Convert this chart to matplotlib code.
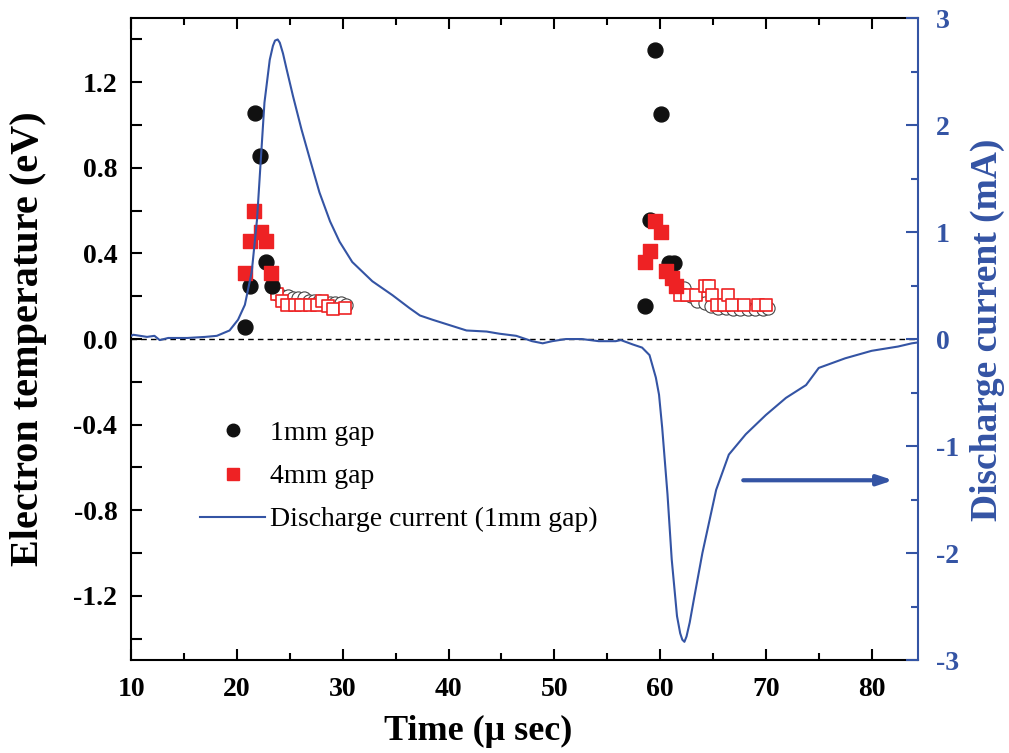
import numpy as np
import matplotlib
matplotlib.use("Agg")
import matplotlib.pyplot as plt
from matplotlib.ticker import MultipleLocator
from matplotlib.lines import Line2D

# electron temperature, 1mm gap (filled = main points, open = tail)
t1_fill = [20.75, 21.2, 21.7, 22.2, 22.7, 23.3, 58.6, 59.05, 59.5, 60.1, 60.85, 61.3]
te1_fill = [0.056, 0.25, 1.055, 0.854, 0.36, 0.25, 0.154, 0.555, 1.35, 1.05, 0.355, 0.355]
t1_open = [23.8, 24.3, 24.8, 25.3, 25.8, 26.3, 26.8, 27.3, 27.8, 28.3, 28.8, 29.3, 29.8, 30.3,
           62.3, 62.9, 63.5, 64.2, 64.8, 65.5, 66.2, 66.9, 67.6, 68.3, 69.0, 69.7, 70.2]
te1_open = [0.21, 0.20, 0.20, 0.19, 0.19, 0.19, 0.18, 0.18, 0.18, 0.17, 0.17, 0.17, 0.17, 0.16,
            0.24, 0.20, 0.18, 0.17, 0.155, 0.145, 0.145, 0.14, 0.14, 0.14, 0.14, 0.14, 0.145]

# electron temperature, 4mm gap
t4_fill = [20.75, 21.2, 21.6, 22.3, 22.7, 23.2, 58.6, 59.05, 59.5, 60.1, 60.6, 61.1, 61.5]
te4_fill = [0.31, 0.46, 0.60, 0.50, 0.46, 0.31, 0.36, 0.41, 0.55, 0.50, 0.32, 0.285, 0.25]
t4_open = [23.8, 24.3, 24.7, 25.5, 26.1, 26.9, 27.6, 28.0, 28.6, 29.1, 30.2,
           61.9, 62.5, 63.4, 64.2, 64.6, 64.9, 65.4, 66.0, 66.4, 66.8, 67.9, 69.3, 70.0]
te4_open = [0.21, 0.18, 0.16, 0.16, 0.16, 0.16, 0.16, 0.18, 0.155, 0.14, 0.145,
            0.205, 0.205, 0.205, 0.25, 0.25, 0.205, 0.16, 0.16, 0.205, 0.16, 0.16, 0.16, 0.16]

# discharge current (mA), 1mm gap
t_cur = [10.0, 10.2, 11.5, 12.2, 12.7, 13.5, 15.3, 17.0, 18.1, 19.3, 20.1, 20.75, 21.4, 21.9, 22.2,
         22.6, 23.1, 23.4, 23.6, 23.85, 24.05, 24.35, 24.7, 25.3, 26.1, 26.9, 27.8, 28.8, 29.7, 30.9,
         32.8, 34.7, 36.3, 37.3, 38.5, 40.1, 41.7, 43.6, 44.8, 46.4, 47.9, 48.9, 49.8, 51.1, 52.6,
         54.2, 55.8, 56.3, 57.4, 58.3, 59.0, 59.2, 59.6, 59.9, 60.2, 60.7, 61.1, 61.6, 61.9, 62.1,
         62.3, 62.5, 62.8, 63.2, 64.0, 65.3, 66.5, 68.1, 70.0, 71.9, 73.8, 75.0, 77.5, 80.0,
         82.5, 83.8, 84.5]
i_cur = [0.03, 0.04, 0.02, 0.03, -0.01, 0.01, 0.01, 0.02, 0.03, 0.08, 0.18, 0.32, 0.63, 1.12, 1.59,
         2.21, 2.61, 2.74, 2.79, 2.80, 2.77, 2.67, 2.52, 2.27, 1.96, 1.68, 1.37, 1.10, 0.91, 0.72,
         0.54, 0.41, 0.29, 0.22, 0.18, 0.13, 0.08, 0.07, 0.05, 0.03, -0.02, -0.04, -0.02, 0.0, 0.0,
         -0.02, -0.02, -0.01, -0.05, -0.08, -0.15, -0.22, -0.36, -0.52, -0.83, -1.45, -2.06, -2.59, -2.75, -2.81,
         -2.83, -2.78, -2.65, -2.43, -2.0, -1.41, -1.08, -0.89, -0.71, -0.55, -0.43, -0.27, -0.18, -0.11,
         -0.07, -0.04, -0.03]

blue = "#3454a4"
red = "#ee2224"
plt.rcParams["font.family"] = ["Liberation Serif", "DejaVu Serif"]
plt.rcParams["axes.unicode_minus"] = False

fig = plt.figure(figsize=(10.09, 7.53), dpi=100)
ax1 = fig.add_axes([0.130, 0.1235, 0.780, 0.8525])
ax2 = ax1.twinx()

ax1.axhline(0, color="black", lw=1, ls=(0, (4, 3)), zorder=1)
ax1.scatter(t1_open, te1_open, s=90, facecolors="white", edgecolors="#444444", linewidths=0.8, zorder=2)
ax1.scatter(t4_open, te4_open, s=80, marker="s", facecolors="white", edgecolors=red, linewidths=1.2, zorder=3)
ax1.scatter(t1_fill, te1_fill, s=115, color="#111111", zorder=4)
ax1.scatter(t4_fill, te4_fill, s=95, marker="s", color=red, zorder=5)

ax2.plot(t_cur, i_cur, color=blue, lw=1.5)
ax2.annotate("", xy=(82.3, -1.32), xytext=(67.6, -1.32),
             arrowprops=dict(arrowstyle="-|>,head_length=0.9,head_width=0.3", color=blue, lw=3))

ax1.set_xlim(10, 84.4)
ax1.set_ylim(-1.5, 1.5)
ax2.set_ylim(-3, 3)

ax1.xaxis.set_major_locator(MultipleLocator(10))
ax1.xaxis.set_minor_locator(MultipleLocator(5))
ax1.yaxis.set_minor_locator(MultipleLocator(0.2))
ax1.set_yticks(np.arange(-1.2, 1.21, 0.4))
ax1.set_yticklabels(["%.1f" % v for v in np.arange(-1.2, 1.21, 0.4)])
ax2.yaxis.set_major_locator(MultipleLocator(1))
ax2.yaxis.set_minor_locator(MultipleLocator(0.5))

ax1.tick_params(which="both", direction="in", top=True, right=False, width=1.5, labelsize=20)
ax1.tick_params(axis="x", pad=12)
ax1.tick_params(axis="y", pad=10)
ax1.tick_params(which="major", length=8)
ax1.tick_params(which="minor", length=5)
ax1.tick_params(axis="y", which="minor", length=8)
ax2.tick_params(which="both", direction="in", colors=blue, width=1.5, labelsize=20, pad=13)
ax2.tick_params(which="major", length=9)
ax2.tick_params(which="minor", length=5)
for lab in ax1.get_xticklabels() + ax1.get_yticklabels() + ax2.get_yticklabels():
    lab.set_fontweight("bold")

for s in ["left", "bottom", "top"]:
    ax1.spines[s].set_linewidth(1.5)
ax1.spines["right"].set_visible(False)
for s in ["left", "bottom", "top"]:
    ax2.spines[s].set_visible(False)
ax2.spines["right"].set_color(blue)
ax2.spines["right"].set_linewidth(1.5)

ax1.set_xlabel("Time (\u03bc sec)", fontsize=26, fontweight="bold", labelpad=2)
ax1.xaxis.set_label_coords(0.441, -0.085)
ax1.set_ylabel("Electron temperature (eV)", fontsize=29, fontweight="bold")
ax1.yaxis.set_label_coords(-0.107, 0.5)
ax2.set_ylabel("Discharge current (mA)", fontsize=27, fontweight="bold", color=blue)
ax2.yaxis.set_label_coords(1.066, 0.515)

handles = [Line2D([], [], ls="none", marker="o", color="#111111", ms=9),
           Line2D([], [], ls="none", marker="s", color=red, ms=8),
           Line2D([], [], color=blue, lw=1.5)]
ax1.legend(handles, ["1mm gap", "4mm gap", "Discharge current (1mm gap)"],
           loc="upper left", bbox_to_anchor=(0.0877, 0.373), frameon=False,
           borderaxespad=0, borderpad=0,
           fontsize=20, handlelength=2.35, handletextpad=0.15, labelspacing=0.64)

fig.savefig("out.png", dpi=100)
